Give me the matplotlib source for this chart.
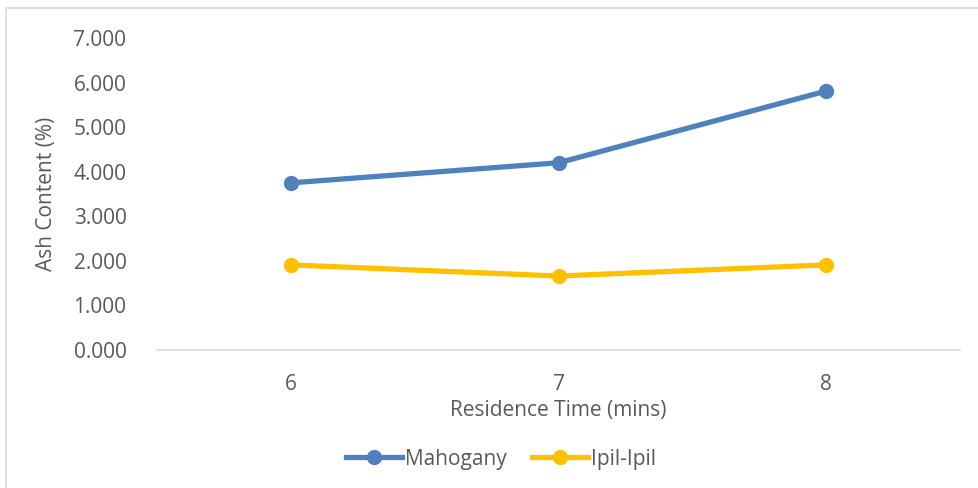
import matplotlib.pyplot as plt
from matplotlib.patches import Rectangle

plt.rcParams['font.family'] = ['Open Sans', 'DejaVu Sans']

times = ["6", "7", "8"]
mahogany = [3.75, 4.20, 5.81]
ipil_ipil = [1.91, 1.66, 1.91]
yticks = [0, 1, 2, 3, 4, 5, 6, 7]

text_col = "#595959"
fs = 15

fig = plt.figure(figsize=(9.79, 4.88), dpi=100)
ax = fig.add_axes([157 / 979, 1 - 350 / 488, (960 - 157) / 979, (350 - 38) / 488])

# chart border (partly cut off in the original)
fig.patches.append(Rectangle((6 / 979, -0.2), 1.2, 1.2 - 8 / 488,
                             transform=fig.transFigure, fill=False,
                             edgecolor="#D9D9D9", linewidth=1.2))

xs = list(range(len(times)))
ax.plot(xs, mahogany, color="#4F81BD", linewidth=3.8, marker="o", markersize=10,
        label="Mahogany")
ax.plot(xs, ipil_ipil, color="#FFC000", linewidth=3.8, marker="o", markersize=10,
        label="Ipil-Ipil")

ax.set_xlim(-0.5, 2.5)
ax.set_ylim(0, 7)
ax.set_xticks(xs)
ax.set_xticklabels(times)
ax.set_yticks(yticks)
ax.set_yticklabels([f"{v:.3f}" for v in yticks])
ax.tick_params(length=0, labelsize=fs, colors=text_col)
ax.tick_params(axis="x", pad=17)
ax.tick_params(axis="y", pad=22)

for s in ["top", "right", "left"]:
    ax.spines[s].set_visible(False)
ax.spines["bottom"].set_color("#D9D9D9")
ax.spines["bottom"].set_linewidth(1.2)

ax.set_xlabel("Residence Time (mins)", fontsize=fs, color=text_col, labelpad=4)
ax.set_ylabel("Ash Content (%)", fontsize=fs, color=text_col, labelpad=12)

fig.legend(loc="center", bbox_to_anchor=(501 / 979, 1 - 459 / 488), ncol=2,
           frameon=False, fontsize=fs, labelcolor=text_col, handlelength=2.7,
           columnspacing=1.2, handletextpad=0.15, borderpad=0)

fig.savefig("out.png", dpi=100)
